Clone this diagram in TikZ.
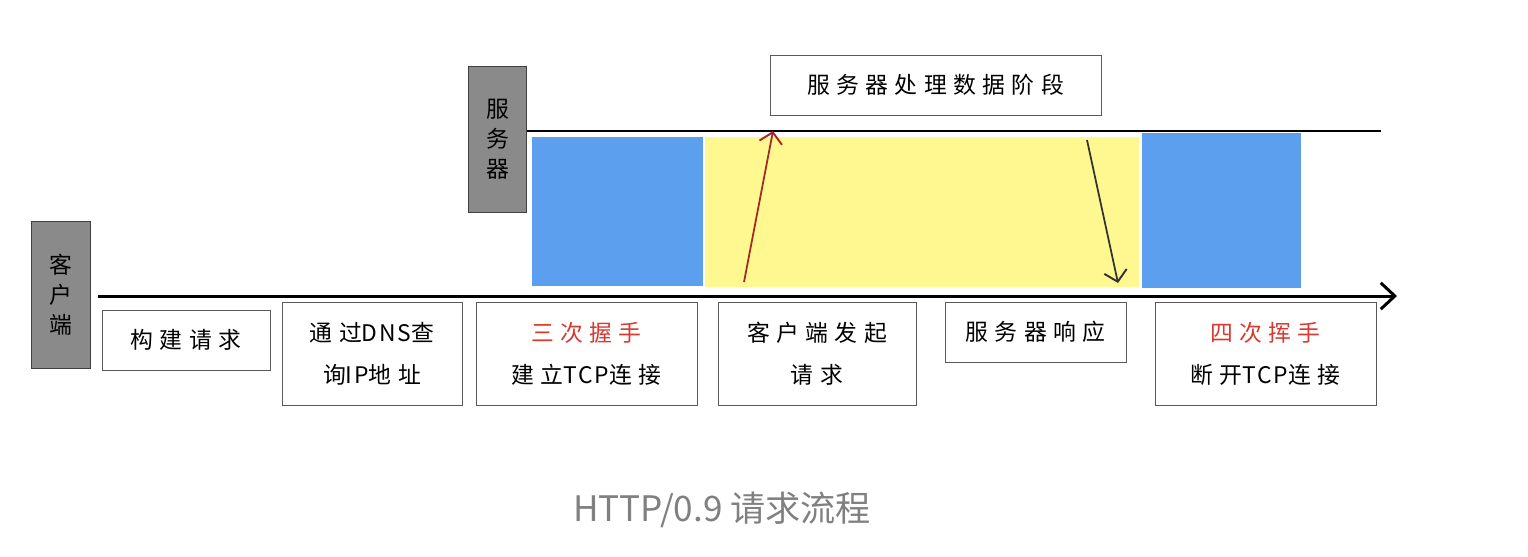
\documentclass[tikz,border=0pt]{standalone}
\usepackage{fontspec}
\setmainfont{Noto Sans CJK SC}
\newfontfamily\boxfont[LetterSpace=28]{Noto Sans CJK SC}
\newfontfamily\latinfont[LetterSpace=8]{Noto Sans CJK SC}
\usetikzlibrary{arrows.meta}

\definecolor{phaseblue}{RGB}{91,159,238}
\definecolor{phaseyellow}{RGB}{255,248,145}
\definecolor{hsred}{RGB}{215,58,48}
\definecolor{reqred}{RGB}{165,40,38}
\definecolor{rolegray}{RGB}{138,138,138}
\definecolor{captiongray}{RGB}{128,128,128}

\tikzset{
  stagebox/.style={
    draw=black!65,
    line width=0.5pt,
    fill=white,
    align=center,
    inner sep=0pt,
    font=\boxfont\fontsize{13}{24}\selectfont
  },
  rolebox/.style={
    draw=black!75,
    fill=rolegray,
    line width=0.6pt,
    align=center,
    inner sep=0pt,
    minimum width=1.17cm,
    minimum height=2.93cm,
    font=\fontsize{13}{17}\selectfont
  }
}

\begin{document}
\begin{tikzpicture}[x=0.02cm,y=-0.02cm]

  \useasboundingbox (0,0) rectangle (1528,556);

  % Fases sobre la linea del servidor
  \fill[phaseblue]
    (532,137) rectangle (703,286);

  \fill[phaseyellow]
    (705,137) rectangle (1139,287);

  \fill[phaseblue]
    (1142,133) rectangle (1301,288);

  % Actores
  \node[rolebox] (client) at (61,295)
    {客\\户\\端};

  \node[rolebox] (server) at (497.5,139.5)
    {服\\务\\器};

  % Lineas de tiempo
  \coordinate (srvstart) at (527,131);
  \coordinate (srvend) at (1381,131);
  \coordinate (clistart) at (98,296);
  \coordinate (cliend) at (1397,296);

  \draw[line width=1.6pt]
    (srvstart) -- (srvend);

  \draw[
    line width=1.7pt,
    -{Straight Barb[length=8pt,width=15pt,line width=1.7pt]}
  ]
    (clistart) -- (cliend);

  % Peticion y respuesta
  \coordinate (reqfrom) at (744,282);
  \coordinate (reqto) at (773,131);
  \coordinate (resfrom) at (1087,140);
  \coordinate (resto) at (1118,283);

  \draw[
    reqred,
    line width=1pt,
    -{Straight Barb[length=6pt,width=13pt,line width=1.1pt]}
  ]
    (reqfrom) -- (reqto);

  \draw[
    black!80,
    line width=1pt,
    -{Straight Barb[length=6pt,width=13pt,line width=1.1pt]}
  ]
    (resfrom) -- (resto);

  % Etiqueta de la fase del servidor
  \node[stagebox, minimum width=6.62cm, minimum height=1.2cm]
    (process) at (935.5,85)
    {服务器处理数据阶段};

  % Etapas del cliente
  \node[stagebox, minimum width=3.36cm, minimum height=1.2cm]
    (build) at (186,340)
    {构建请求};

  \node[stagebox, minimum width=3.6cm, minimum height=2.06cm]
    (dns) at (372,353.5)
    {通过{\latinfont DNS}查\\询{\latinfont IP}地址};

  \node[stagebox, minimum width=4.42cm, minimum height=2.06cm]
    (connect) at (586.5,353.5)
    {\textcolor{hsred}{三次握手}\\建立{\latinfont TCP}连接};

  \node[stagebox, minimum width=3.96cm, minimum height=2.06cm]
    (request) at (817,353.5)
    {客户端发起\\请求};

  \node[stagebox, minimum width=3.62cm, minimum height=1.2cm]
    (response) at (1035.5,332)
    {服务器响应};

  \node[stagebox, minimum width=4.42cm, minimum height=2.06cm]
    (disconnect) at (1265.5,353.5)
    {\textcolor{hsred}{四次挥手}\\断开{\latinfont TCP}连接};

  % Titulo
  \node[captiongray, font=\fontsize{20}{24}\selectfont]
    (caption) at (722,510)
    {HTTP/0.9 请求流程};

\end{tikzpicture}
\end{document}
